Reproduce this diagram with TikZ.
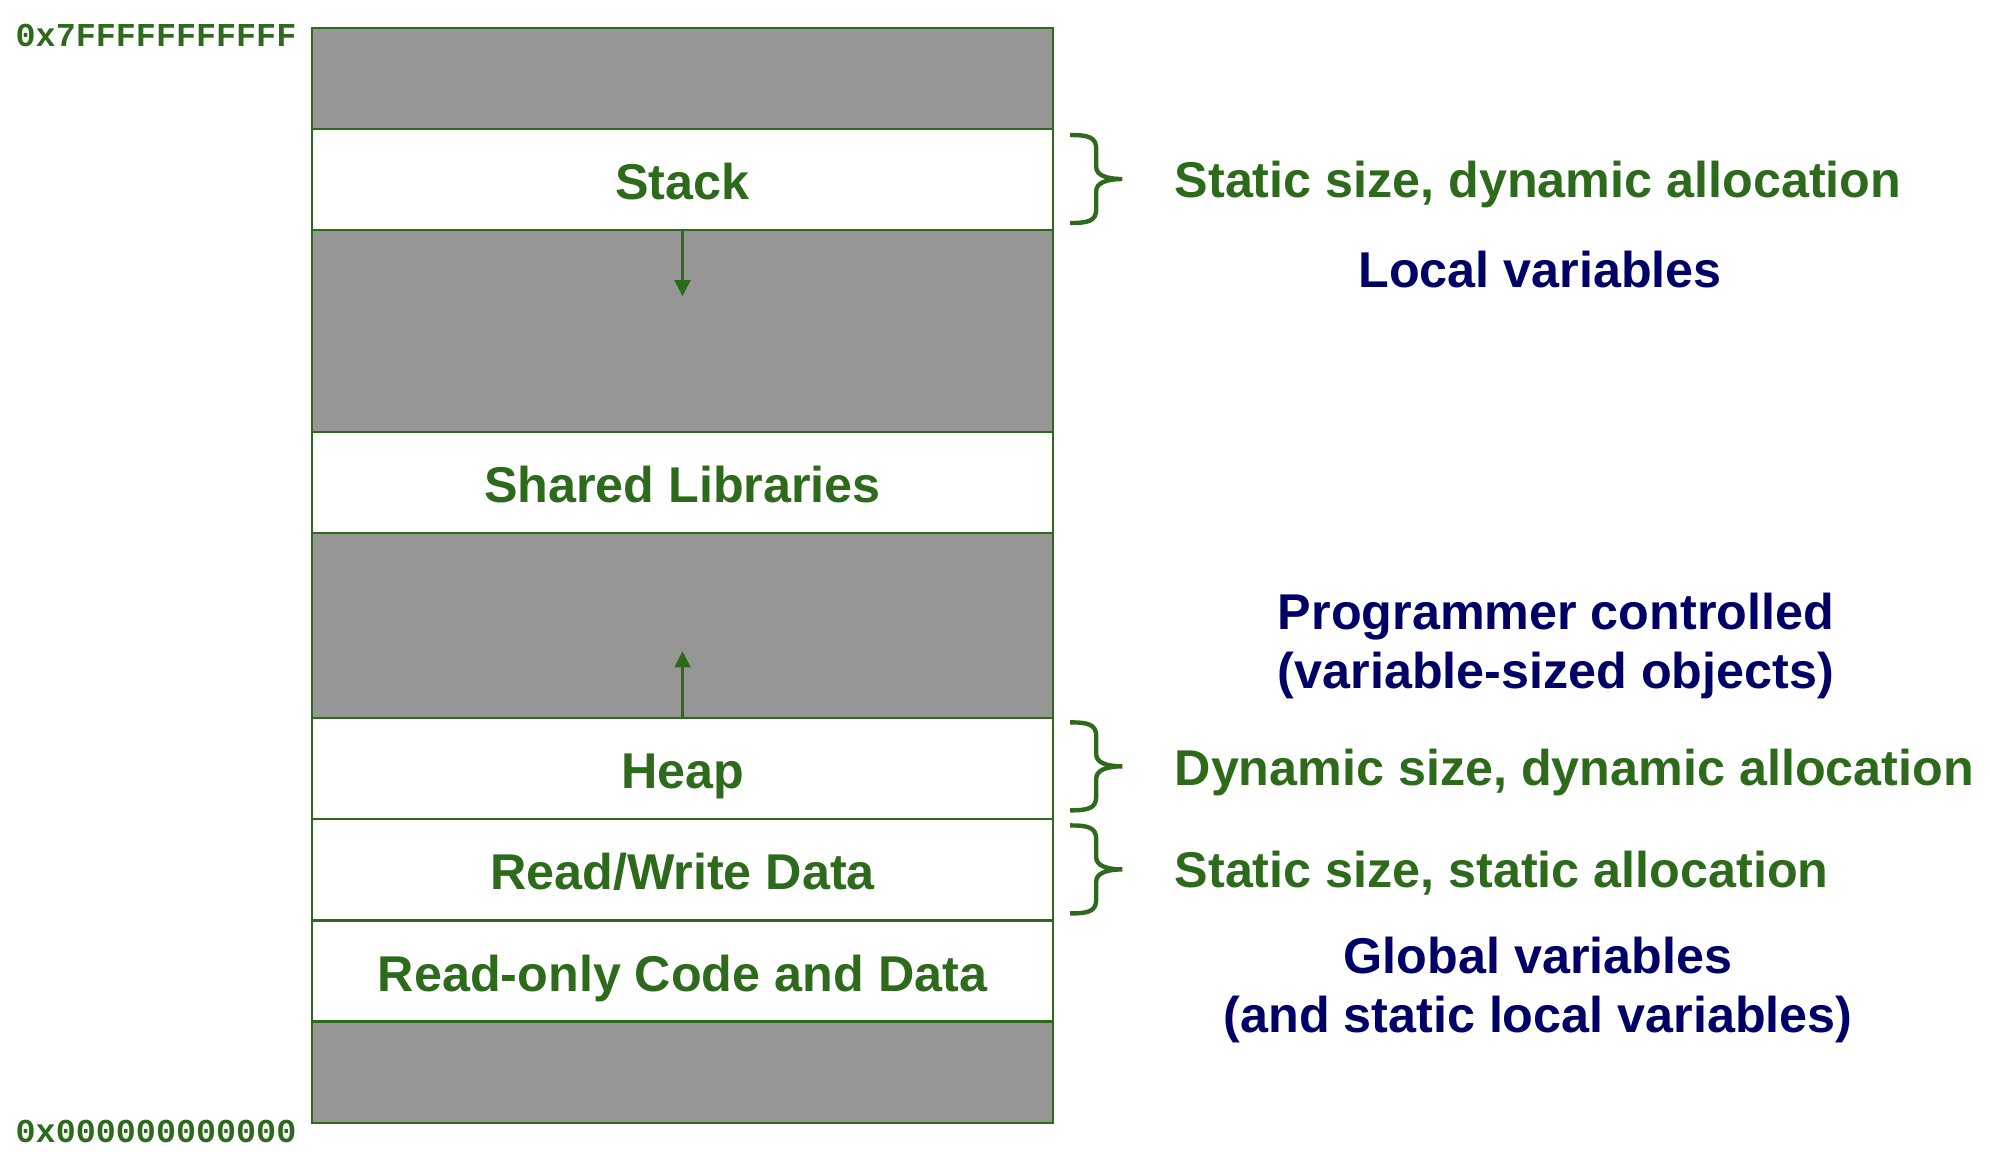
\documentclass[tikz,border=0pt]{standalone}
\usepackage{fontspec}
\setmainfont{Liberation Sans}
\setmonofont{Liberation Mono}
\usetikzlibrary{positioning,arrows.meta}
\definecolor{memgreen}{RGB}{46,106,28}
\definecolor{memnavy}{RGB}{0,0,102}
\definecolor{memgray}{RGB}{150,150,150}
\tikzset{
  seg/.style={draw=memgreen, line width=0.6pt, fill=white, minimum width=7.41cm, minimum height=1.01cm,
    inner sep=0pt, outer sep=0pt, text height=0.4cm, text depth=0cm, text=memgreen,
    font=\bfseries\fontsize{14.3}{17}\selectfont},
  gapseg/.style={seg, fill=memgray},
  hexlabel/.style={anchor=west, inner sep=0pt, text=memgreen, font=\ttfamily\bfseries\fontsize{9.5}{11}\selectfont},
  kindnote/.style={anchor=base west, inner sep=0pt, text=memgreen, font=\bfseries\fontsize{14.3}{17}\selectfont},
  usenote/.style={align=center, inner sep=0pt, text=memnavy, font=\bfseries\fontsize{14.3}{16.8}\selectfont},
  growarrow/.style={draw=memgreen, line width=0.6pt, -{Triangle[width=0.16cm,length=0.16cm]}},
  membrace/.pic={
    \draw[memgreen, line width=1.25pt] (0,0) .. controls (18,0) and (26,2) .. (26,14) -- (26,32)
      .. controls (26,40) and (36,44) .. (52,44) .. controls (36,44) and (26,48) .. (26,56) -- (26,74)
      .. controls (26,86) and (18,88) .. (0,88);
  }
}
\begin{document}
\begin{tikzpicture}[x=0.01cm, y=-0.01cm]
\useasboundingbox (0,0) rectangle (1990,1152);
% memory layout, top to bottom
\node[gapseg] (top) at (682.5,78.5) {};
\node[seg, below=0pt of top] (stack) {Stack};
\node[gapseg, minimum height=2.02cm, below=0pt of stack] (gapa) {};
\node[seg, below=0pt of gapa] (shared) {Shared Libraries};
\node[gapseg, minimum height=1.85cm, below=0pt of shared] (gapb) {};
\node[seg, below=0pt of gapb] (heap) {Heap};
\node[seg, below=0pt of heap] (rwdata) {Read/Write Data};
\node[seg, below=0pt of rwdata] (rocode) {Read-only Code and Data};
\node[gapseg, below=0pt of rocode] (bottom) {};
\node[hexlabel] (hightop) at (15,35) {0x7FFFFFFFFFFF};
\node[hexlabel] (lowbottom) at (15,1131) {0x000000000000};
% growth
\coordinate[below=0.66cm of stack] (stacktip);
\coordinate[above=0.67cm of heap] (heaptip);
\draw[growarrow] (stack) -- (stacktip);
\draw[growarrow] (heap) -- (heaptip);
% braces and notes
\path ([xshift=0.17cm,yshift=-0.06cm]stack.north east) pic {membrace};
\path ([xshift=0.17cm,yshift=-0.04cm]heap.north east) pic {membrace};
\path ([xshift=0.17cm,yshift=-0.06cm]rwdata.north east) pic {membrace};
\node[kindnote] (stackkind) at (1174,198) {Static size, dynamic allocation};
\node[kindnote] (heapkind) at (1174,785) {Dynamic size, dynamic allocation};
\node[kindnote] (rwkind) at (1174,887) {Static size, static allocation};
\node[usenote] (stackuse) at (1540,270) {Local variables};
\node[usenote] (heapuse) at (1556,646) {Programmer controlled\\(variable-sized objects)};
\node[usenote] (rwuse) at (1538,990) {Global variables\\(and static local variables)};
\end{tikzpicture}
\end{document}
